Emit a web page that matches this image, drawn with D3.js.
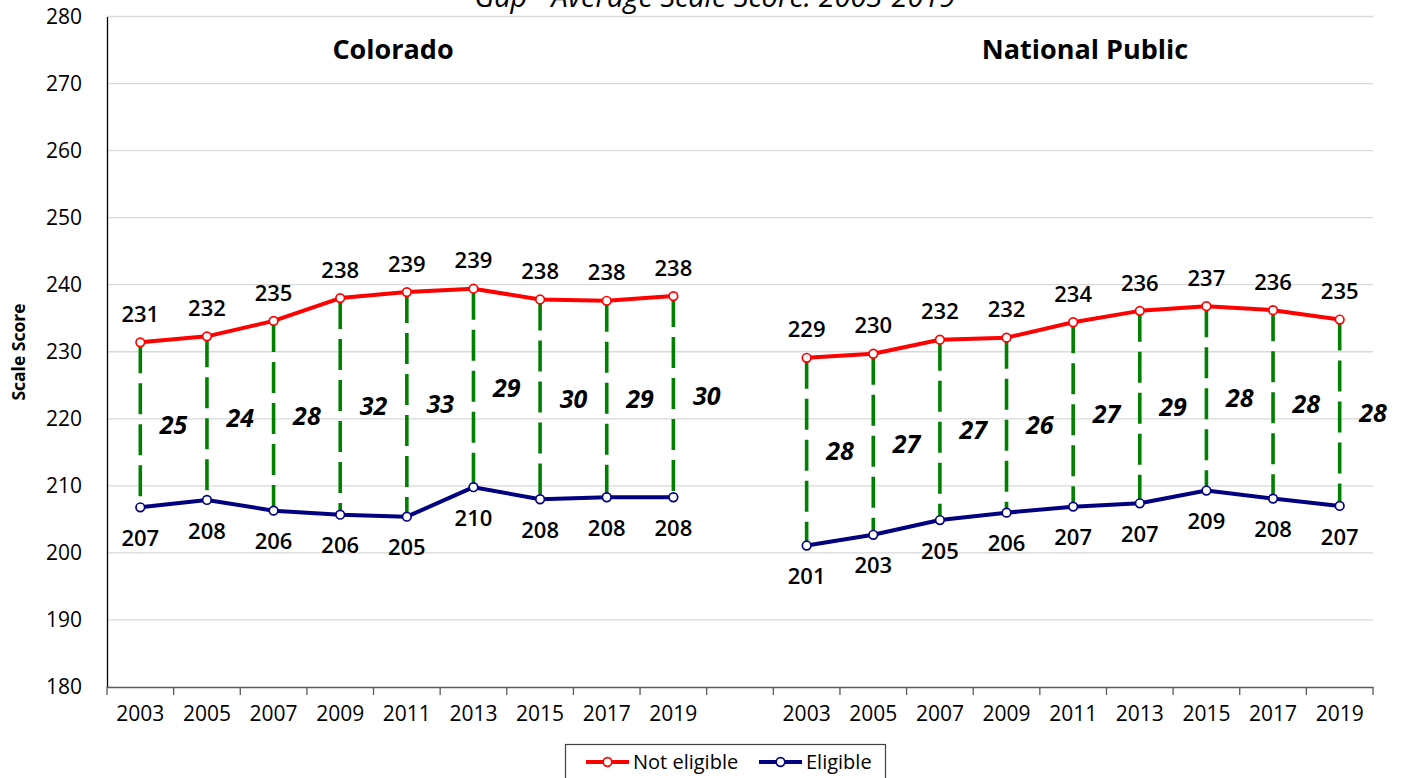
<!DOCTYPE html>
<html>
<head>
<meta charset="utf-8">
<script src="https://cdn.jsdelivr.net/npm/d3@7"></script>
<style>
  html, body { margin: 0; padding: 0; background: #fff; }
  svg { display: block; font-family: "Open Sans", sans-serif; }
</style>
</head>
<body>
<svg id="chart" width="1403" height="778"></svg>
<script>
// ---- data ----
const years = ["2003", "2005", "2007", "2009", "2011", "2013", "2015", "2017", "2019"];
const panels = ["Colorado", "National Public"];
const coNotEligible = [231.4, 232.3, 234.6, 238.0, 238.9, 239.4, 237.8, 237.6, 238.3];
const coEligible    = [206.8, 207.9, 206.3, 205.7, 205.4, 209.8, 208.0, 208.3, 208.3];
const coGap         = [25, 24, 28, 32, 33, 29, 30, 29, 30];
const npNotEligible = [229.1, 229.7, 231.8, 232.1, 234.4, 236.1, 236.8, 236.2, 234.8];
const npEligible    = [201.1, 202.7, 204.9, 206.0, 206.9, 207.4, 209.3, 208.1, 207.0];
const npGap         = [28, 27, 27, 26, 27, 29, 28, 28, 28];
const yTicks = [180, 190, 200, 210, 220, 230, 240, 250, 260, 270, 280];
const seriesNames = ["Not eligible", "Eligible"];
const title = "Gap - Average Scale Score: 2003-2019";
const yTitle = "Scale Score";

(function () {
// ---- layout ----
const svg = d3.select("#chart");
const pLeft = 107, pRight = 1373, pTop = 16.5, pBottom = 687;
const red = "#ff0000", blue = "#000080", green = "#008000";

const keys = [];
years.forEach(y => keys.push("CO" + y));
keys.push("gap");
years.forEach(y => keys.push("NP" + y));

const x = d3.scaleBand().domain(keys).range([pLeft, pRight]).padding(0);
const y = d3.scaleLinear().domain([180, 280]).range([pBottom, pTop]);
const bw = x.bandwidth();

// gridlines
svg.append("g").selectAll("line").data(yTicks.filter(t => t > 180)).join("line")
  .attr("x1", pLeft).attr("x2", pRight)
  .attr("y1", d => y(d)).attr("y2", d => y(d))
  .attr("stroke", "#d9d9d9").attr("stroke-width", 1.3);

// y axis
const yAxis = svg.append("g").attr("transform", `translate(${pLeft},0)`)
  .call(d3.axisLeft(y).tickValues(yTicks).tickSize(0).tickPadding(25));
yAxis.select(".domain").attr("stroke", "#000").attr("stroke-width", 1.3);
yAxis.selectAll("text").attr("font-family", "Open Sans").attr("font-size", 21).attr("fill", "#000");

// x axis
const xAxis = svg.append("g").attr("transform", `translate(0,${pBottom})`)
  .call(d3.axisBottom(x).tickSize(0).tickFormat(k => k === "gap" ? "" : k.slice(2)).tickPadding(19));
xAxis.select(".domain").attr("stroke", "#595959").attr("stroke-width", 1.3);
xAxis.selectAll("text").attr("font-family", "Open Sans").attr("font-size", 21).attr("fill", "#000");
// boundary ticks
const bounds = keys.map(k => x(k)).concat([pRight]);
svg.append("g").selectAll("line").data(bounds).join("line")
  .attr("x1", d => d).attr("x2", d => d)
  .attr("y1", pBottom).attr("y2", pBottom + 8)
  .attr("stroke", "#595959").attr("stroke-width", 1.3);

// title
svg.append("text").attr("x", 715).attr("y", 7).attr("text-anchor", "middle")
  .attr("font-size", 29).attr("font-style", "italic").attr("fill", "#000").text(title);

// y axis title
svg.append("text").attr("transform", "translate(25,352) rotate(-90)")
  .attr("text-anchor", "middle").attr("font-size", 17.5).attr("font-weight", 700)
  .attr("fill", "#000").text(yTitle);

// panels
const panelData = [
  { name: panels[0], prefix: "CO", ne: coNotEligible, el: coEligible, gap: coGap, tx: 393 },
  { name: panels[1], prefix: "NP", ne: npNotEligible, el: npEligible, gap: npGap, tx: 1085 }
];

panelData.forEach(p => {
  const cx = i => x(p.prefix + years[i]) + bw / 2;
  const g = svg.append("g");

  g.append("text").attr("x", p.tx).attr("y", 59).attr("text-anchor", "middle")
    .attr("font-size", 27).attr("font-weight", 700).attr("fill", "#000").text(p.name);

  // gap dashed lines
  g.selectAll("line.gap").data(years).join("line").attr("class", "gap")
    .attr("x1", (d, i) => cx(i)).attr("x2", (d, i) => cx(i))
    .attr("y1", (d, i) => y(p.ne[i])).attr("y2", (d, i) => y(p.el[i]))
    .attr("stroke", green).attr("stroke-width", 3.6).attr("stroke-dasharray", "31,10");

  // gap labels
  g.selectAll("text.gap").data(p.gap).join("text").attr("class", "gap")
    .attr("x", (d, i) => cx(i) + bw / 2)
    .attr("y", (d, i) => (y(p.ne[i]) + y(p.el[i])) / 2)
    .attr("dy", "0.35em").attr("text-anchor", "middle")
    .attr("font-size", 25).attr("font-weight", 700).attr("font-style", "italic")
    .attr("fill", "#000").text(d => d);

  const line = d3.line().x((d, i) => cx(i)).y(d => y(d));
  [[p.ne, red, -28], [p.el, blue, 31]].forEach(([vals, col, off]) => {
    g.append("path").datum(vals).attr("d", line)
      .attr("fill", "none").attr("stroke", col).attr("stroke-width", 4)
      .attr("stroke-linejoin", "round");
    g.selectAll(null).data(vals).join("circle")
      .attr("cx", (d, i) => cx(i)).attr("cy", d => y(d)).attr("r", 4.3)
      .attr("fill", "#fff").attr("stroke", col).attr("stroke-width", 1.7);
    g.selectAll(null).data(vals).join("text")
      .attr("x", (d, i) => cx(i)).attr("y", d => y(d) + off)
      .attr("dy", "0.35em").attr("text-anchor", "middle")
      .attr("font-size", 22).attr("font-weight", 600).attr("fill", "#000")
      .text(d => d3.format(".0f")(d));
  });
});

// legend
const lg = svg.append("g");
lg.append("rect").attr("x", 565.5).attr("y", 744.5).attr("width", 320).attr("height", 60)
  .attr("fill", "#fff").attr("stroke", "#404040").attr("stroke-width", 1.2);
const legendItems = [
  { name: seriesNames[0], col: red, x0: 586 },
  { name: seriesNames[1], col: blue, x0: 759 }
];
legendItems.forEach(it => {
  lg.append("line").attr("x1", it.x0).attr("x2", it.x0 + 43).attr("y1", 762).attr("y2", 762)
    .attr("stroke", it.col).attr("stroke-width", 4);
  lg.append("circle").attr("cx", it.x0 + 21.5).attr("cy", 762).attr("r", 4.3)
    .attr("fill", "#fff").attr("stroke", it.col).attr("stroke-width", 1.7);
  lg.append("text").attr("x", it.x0 + 47).attr("y", 762).attr("dy", "0.35em")
    .attr("font-size", 20).attr("fill", "#000").text(it.name);
});
})();
</script>
</body>
</html>
